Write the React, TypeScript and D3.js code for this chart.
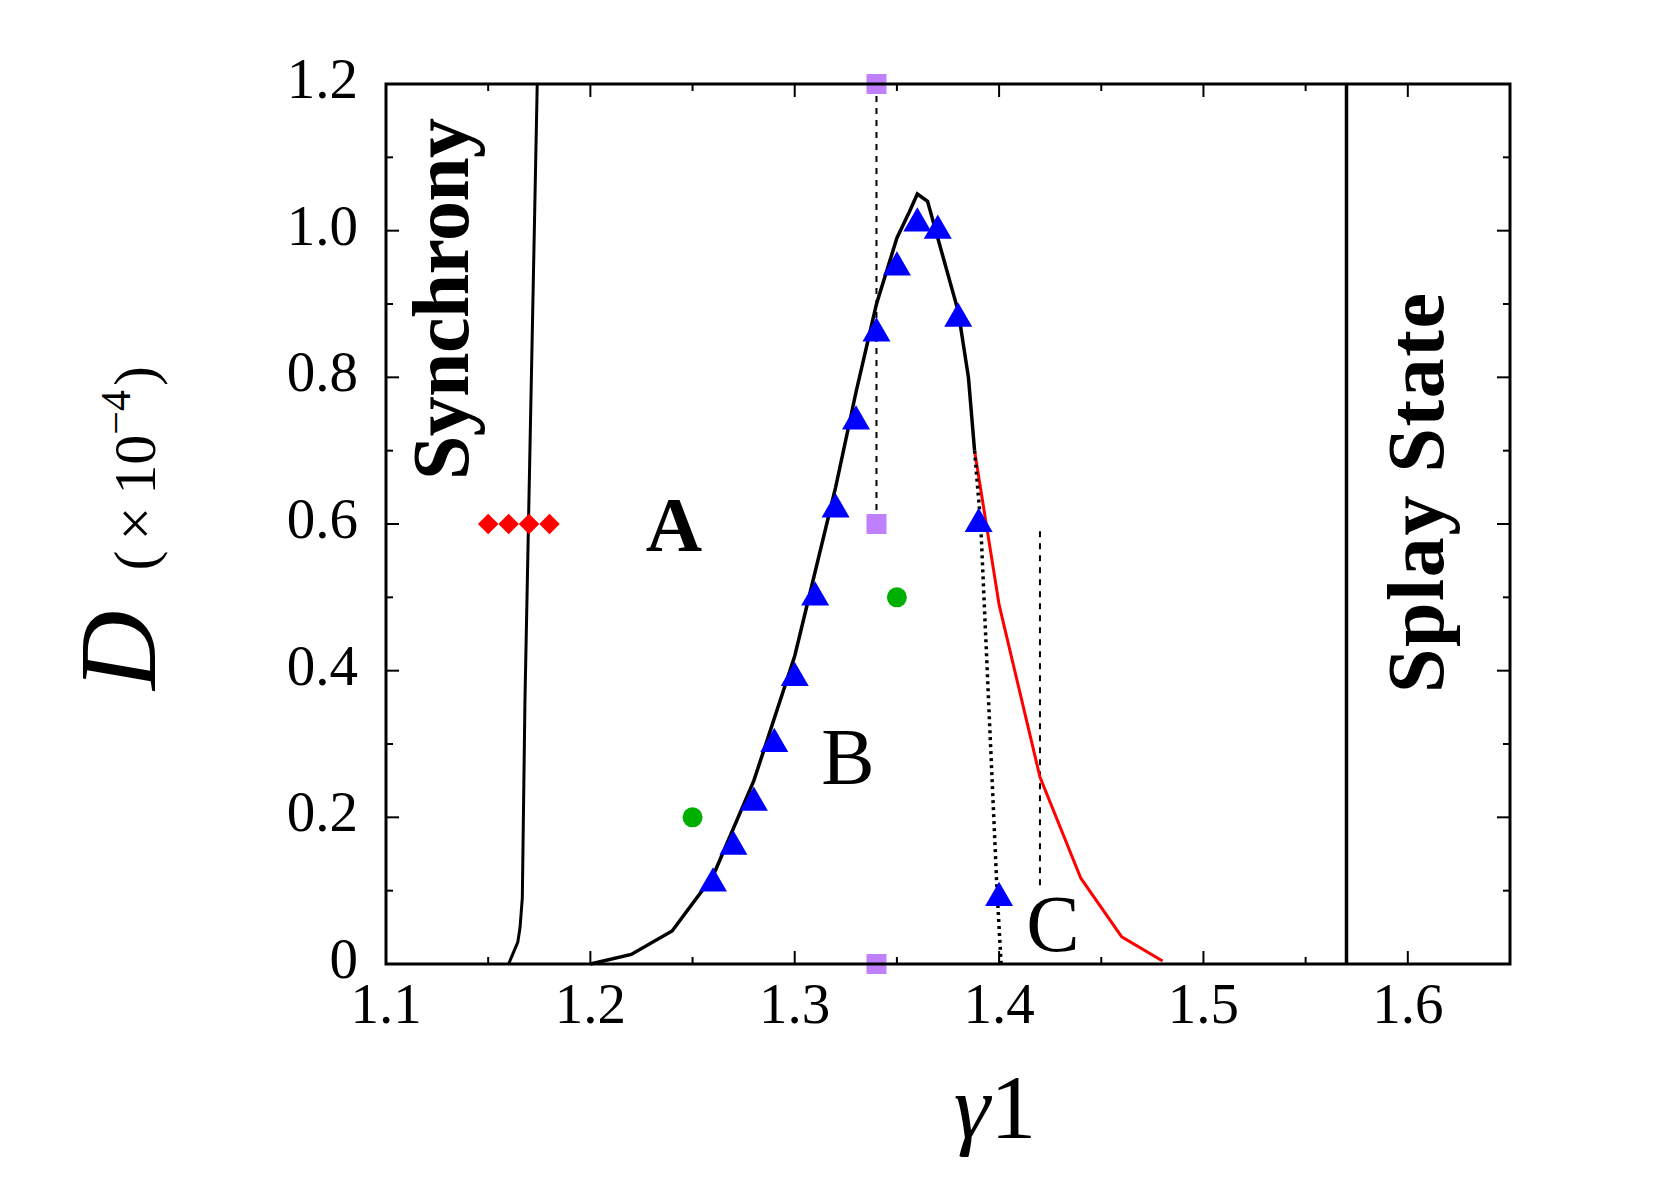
import React from 'react';
import * as d3 from 'd3';

// boundary curve (black), then continued in red past the branch point
const boundaryGamma = [1.2, 1.22, 1.24, 1.26, 1.28, 1.3, 1.32, 1.33, 1.34, 1.35, 1.356, 1.36, 1.365, 1.37, 1.38, 1.385, 1.388];
const boundaryD = [0, 0.013, 0.045, 0.12, 0.25, 0.42, 0.65, 0.78, 0.9, 0.99, 1.025, 1.05, 1.04, 0.99, 0.89, 0.8, 0.7];
const redGamma = [1.388, 1.4, 1.42, 1.44, 1.46, 1.48];
const redD = [0.7, 0.49, 0.255, 0.117, 0.037, 0.004];
const dottedGamma = [1.388, 1.391, 1.399, 1.401];
const dottedD = [0.7, 0.6, 0.1, 0];
const syncGamma = [1.16, 1.1615, 1.1645, 1.1656, 1.1667, 1.168, 1.174];
const syncD = [0, 0.01, 0.03, 0.05, 0.09, 0.36, 1.2];
const splayGamma = 1.57;

// markers
const triGamma = [1.26, 1.27, 1.28, 1.29, 1.3, 1.31, 1.32, 1.33, 1.34, 1.35, 1.36, 1.37, 1.38, 1.39, 1.4];
const triD = [0.11, 0.16, 0.22, 0.3, 0.39, 0.5, 0.62, 0.74, 0.86, 0.95, 1.01, 1.0, 0.88, 0.6, 0.09];
const diamondGamma = [1.15, 1.16, 1.17, 1.18];
const diamondD = [0.6, 0.6, 0.6, 0.6];
const squareGamma = [1.34, 1.34, 1.34];
const squareD = [1.2, 0.6, 0];
const circleGamma = [1.25, 1.35];
const circleD = [0.2, 0.5];
const dashA = { gamma: 1.34, from: 0.6, to: 1.2 };
const dashC = { gamma: 1.42, from: 0.1, to: 0.59 };

const xTicks = [1.1, 1.2, 1.3, 1.4, 1.5, 1.6];
const yTicks = [0, 0.2, 0.4, 0.6, 0.8, 1.0, 1.2];

const W = 1661, H = 1198;
const left = 386, right = 1510, top = 84, bottom = 964;
const serif = '"Liberation Serif", "DejaVu Serif", serif';

export default function App() {
  const x = d3.scaleLinear().domain([1.1, 1.65]).range([left, right]);
  const y = d3.scaleLinear().domain([0, 1.2]).range([bottom, top]);
  const line = d3.line<[number, number]>().x(d => x(d[0])).y(d => y(d[1]));
  const zip = (a: number[], b: number[]) => a.map((v, i) => [v, b[i]] as [number, number]);

  const xMinor = d3.range(1.1, 1.66, 0.05);
  const yMinor = d3.range(0, 1.21, 0.1);
  const fmtY = (v: number) => (v === 0 ? '0' : v.toFixed(1));

  const tri = d3.symbol(d3.symbolTriangle, 340)()!;
  const sq = d3.symbol(d3.symbolSquare, 400)()!;
  const dia = d3.symbol(d3.symbolSquare, 210)()!;

  return (
    <svg width={W} height={H} style={{ position: 'absolute', left: 0, top: 0, background: '#fff' }}>
      {/* ticks on all four sides, pointing in */}
      <g stroke="#000" strokeWidth={2}>
        {xMinor.map((v, i) => {
          const major = i % 2 === 0;
          const len = major ? 13 : 7;
          return (
            <g key={'xt' + i}>
              <line x1={x(v)} x2={x(v)} y1={bottom} y2={bottom - len} />
              <line x1={x(v)} x2={x(v)} y1={top} y2={top + len} />
            </g>
          );
        })}
        {yMinor.map((v, i) => {
          const major = i % 2 === 0;
          const len = major ? 13 : 7;
          return (
            <g key={'yt' + i}>
              <line x1={left} x2={left + len} y1={y(v)} y2={y(v)} />
              <line x1={right} x2={right - len} y1={y(v)} y2={y(v)} />
            </g>
          );
        })}
      </g>

      {/* dashed guides */}
      <line x1={x(dashA.gamma)} x2={x(dashA.gamma)} y1={y(dashA.to)} y2={y(dashA.from)} stroke="#000" strokeWidth={2} strokeDasharray="6 6" />
      <line x1={x(dashC.gamma)} x2={x(dashC.gamma)} y1={y(dashC.to)} y2={y(dashC.from)} stroke="#000" strokeWidth={2} strokeDasharray="6 6" />

      {/* curves */}
      <path d={line(zip(syncGamma, syncD))!} fill="none" stroke="#000" strokeWidth={3} />
      <line x1={x(splayGamma)} x2={x(splayGamma)} y1={top} y2={bottom} stroke="#000" strokeWidth={3.5} />
      <path d={line(zip(boundaryGamma, boundaryD))!} fill="none" stroke="#000" strokeWidth={3.5} />
      <path d={line(zip(redGamma, redD))!} fill="none" stroke="#ff0000" strokeWidth={3} />
      <path d={line(zip(dottedGamma, dottedD))!} fill="none" stroke="#000" strokeWidth={3.5} strokeDasharray="3 4" />

      {/* markers */}
      {triGamma.map((g, i) => (
        <path key={'tr' + i} d={tri} transform={`translate(${x(g)},${y(triD[i])})`} fill="#0000ff" />
      ))}
      {diamondGamma.map((g, i) => (
        <path key={'di' + i} d={dia} transform={`translate(${x(g)},${y(diamondD[i])}) rotate(45)`} fill="#ff0000" />
      ))}
      {squareGamma.map((g, i) => (
        <path key={'sq' + i} d={sq} transform={`translate(${x(g)},${y(squareD[i])})`} fill="#bf80ff" />
      ))}
      {circleGamma.map((g, i) => (
        <circle key={'ci' + i} cx={x(g)} cy={y(circleD[i])} r={10} fill="#00b000" />
      ))}

      {/* frame */}
      <rect x={left} y={top} width={right - left} height={bottom - top} fill="none" stroke="#000" strokeWidth={3} />

      {/* tick labels */}
      <g fontFamily={serif} fontSize={57} fill="#000">
        {xTicks.map(v => (
          <text key={'xl' + v} x={x(v)} y={1023} textAnchor="middle">{v.toFixed(1)}</text>
        ))}
        {yTicks.map(v => (
          <text key={'yl' + v} x={358} y={y(v) + 14} textAnchor="end">{fmtY(v)}</text>
        ))}
      </g>

      {/* region labels */}
      <g fontFamily={serif} fill="#000">
        <text transform="translate(468,299) rotate(-90)" textAnchor="middle" fontSize={80} fontWeight="bold" textLength={362}>Synchrony</text>
        <text transform="translate(1443,493) rotate(-90)" textAnchor="middle" fontSize={80} fontWeight="bold" textLength={400}>Splay State</text>
        <text x={674} y={551} textAnchor="middle" fontSize={78} fontWeight="bold">A</text>
        <text x={848} y={784} textAnchor="middle" fontSize={80}>B</text>
        <text x={1053} y={951} textAnchor="middle" fontSize={80}>C</text>
      </g>

      {/* axis titles */}
      <text transform="translate(155,690) rotate(-90)" fontFamily={serif} fill="#000">
        <tspan fontSize={110} fontStyle="italic">D</tspan>
        <tspan fontSize={60} dx={40}>(</tspan>
        <tspan fontSize={60} dx={10}>×</tspan>
        <tspan fontSize={60} dx={12}>10</tspan>
        <tspan fontSize={42} dy={-25}>−4</tspan>
        <tspan fontSize={60} dy={25} dx={4}>)</tspan>
      </text>
      <text x={995} y={1138} textAnchor="middle" fontFamily={serif} fontSize={92} fill="#000">
        <tspan fontStyle="italic">γ</tspan>
        <tspan>1</tspan>
      </text>
    </svg>
  );
}
